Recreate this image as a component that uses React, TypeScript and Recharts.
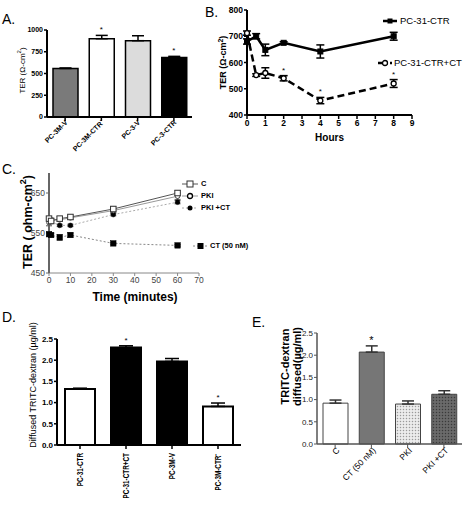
import React from 'react';
import { ComposedChart, LineChart, Bar, Line, XAxis, YAxis, ErrorBar, Legend, Cell, Label } from 'recharts';

const FONT = '"Liberation Sans", Arial, Helvetica, sans-serif';

// ---------- Panel A ----------
const aCategories = ['PC-3M-V', 'PC-3M-CTR\u207B', 'PC-3-V', 'PC-3-CTR'];
const aValues = [558, 900, 877, 685];
const aErrors = [5, 38, 57, 12];
const aSignificant = [false, true, false, true];
const aYTicks = [0, 250, 500, 750, 1000];

// ---------- Panel B ----------
const bHours = [0, 0.5, 1, 2, 4, 8];
const bCtr = [680, 700, 648, 675, 642, 700];
const bCtrErr = [10, 10, 22, 4, 25, 15];
const bCtrCt = [712, 552, 560, 540, 455, 520];
const bCtrCtErr = [8, 5, 20, 10, 12, 15];
const bSignificant = [false, false, false, true, true, true];
const bXTicks = [0, 1, 2, 3, 4, 5, 6, 7, 8, 9];
const bYTicks = [400, 500, 600, 700, 800];
const bSeriesNames = ['PC-31-CTR', 'PC-31-CTR+CT'];

// ---------- Panel C ----------
const cMinutes = [0, 1, 5, 10, 30, 60];
const cControl = [586, 580, 586, 590, 610, 650];
const cControlErr = [5, 5, 5, 5, 6, 6];
const cPki = [576, 583, 583, 588, 606, 642];
const cPkiErr = [8, 4, 4, 4, 5, 8];
const cPkiCt = [585, 578, 569, 569, 596, 627];
const cPkiCtErr = [4, 4, 3, 3, 3, 4];
const cCt = [547, 545, 539, 545, 524, 519];
const cCtErr = [5, 4, 7, 5, 2, 2];
const cXTicks = [0, 10, 20, 30, 40, 50, 60, 70];
const cYTicks = [450, 550, 650];
const cSeriesNames = ['C', 'PKI', 'PKI +CT', 'CT (50 nM)'];

// ---------- Panel D ----------
const dCategories = ['PC-31-CTR', 'PC-31-CTR+CT', 'PC-3M-V', 'PC-3M-CTR\u207B'];
const dValues = [1.32, 2.3, 1.97, 0.91];
const dErrors = [0.02, 0.04, 0.07, 0.08];
const dSignificant = [false, true, false, true];
const dYTicks = [0, 0.5, 1.0, 1.5, 2.0, 2.5];

// ---------- Panel E ----------
const eCategories = ['C', 'CT (50 nM)', 'PKI', 'PKI +CT'];
const eValues = [0.92, 2.07, 0.9, 1.12];
const eErrors = [0.07, 0.14, 0.07, 0.08];
const eSignificant = [false, true, false, false];
const eYTicks = [0, 0.5, 1.0, 1.5, 2.0, 2.5];

// ---------- styles ----------
const A_FILLS = ['#7a7a7a', '#ffffff', '#dcdcdc', '#000000'];
const D_FILLS = ['#ffffff', '#000000', '#000000', '#ffffff'];
const E_FILLS = ['#ffffff', '#767676', 'url(#dotsLight)', 'url(#dotsDark)'];

// ---------- tables ----------
const aData = aCategories.map((name, i) => ({
  name,
  value: aValues[i],
  err: [0, aErrors[i]],
  star: aSignificant[i] ? aValues[i] + aErrors[i] : null,
}));
const bData = bHours.map((h, i) => ({
  h,
  ctr: bCtr[i],
  ctrErr: bCtrErr[i],
  ctrCt: bCtrCt[i],
  ctrCtErr: bCtrCtErr[i],
  star: bSignificant[i] ? bCtrCt[i] + bCtrCtErr[i] : null,
}));
const cData = cMinutes.map((t, i) => ({
  t,
  control: cControl[i],
  controlErr: cControlErr[i],
  pki: cPki[i],
  pkiErr: cPkiErr[i],
  pkiCt: cPkiCt[i],
  pkiCtErr: cPkiCtErr[i],
  ct: cCt[i],
  ctErr: cCtErr[i],
}));
const dData = dCategories.map((name, i) => ({
  name,
  value: dValues[i],
  err: [0, dErrors[i]],
  star: dSignificant[i] ? dValues[i] + dErrors[i] : null,
}));
const eData = eCategories.map((name, i) => ({
  name,
  value: eValues[i],
  err: [0, eErrors[i]],
  star: eSignificant[i] ? eValues[i] + eErrors[i] : null,
}));

// ---------- helpers ----------
const starMark = (fontSize: number, lift: number) => (props: any) => {
  const { cx, cy, payload, index } = props;
  if (!payload || payload.star == null || cx == null || cy == null) return <g key={`s${index}`} />;
  return (
    <text key={`s${index}`} x={cx} y={cy - lift} textAnchor="middle" fontSize={fontSize} fontFamily={FONT} fill="#000">
      *
    </text>
  );
};

const squareDot = (size: number, fill: string, stroke: string, sw: number) => (props: any) => {
  const { cx, cy, index } = props;
  if (cx == null || cy == null) return <g key={`q${index}`} />;
  return <rect key={`q${index}`} x={cx - size / 2} y={cy - size / 2} width={size} height={size} fill={fill} stroke={stroke} strokeWidth={sw} />;
};

const circleDot = (r: number, fill: string, stroke: string, sw: number) => (props: any) => {
  const { cx, cy, index } = props;
  if (cx == null || cy == null) return <g key={`c${index}`} />;
  return <circle key={`c${index}`} cx={cx} cy={cy} r={r} fill={fill} stroke={stroke} strokeWidth={sw} />;
};

const angledTick = (fontSize: number, weight: any, dx: number, dy: number, angle: number, squeeze = 1) => (props: any) => {
  const { x, y, payload } = props;
  const ax = x + dx;
  const ay = y + dy;
  return (
    <g transform={`translate(${ax}, ${ay}) rotate(${angle}) scale(${squeeze}, 1)`}>
      <text x={0} y={0} textAnchor="end" fontSize={fontSize} fontWeight={weight} fontFamily={FONT} fill="#000">
        {payload.value}
      </text>
    </g>
  );
};

const yTitle = (dx: number, dy: number, fontSize: number, weight: any, lines: React.ReactNode[], lineGap = 0) => (props: any) => {
  const vb = props.viewBox || { x: 0, y: 0, width: 0, height: 0 };
  const cy = vb.y + vb.height / 2 + dy;
  return (
    <g>
      {lines.map((ln, i) => {
        const x = vb.x + dx + i * lineGap;
        return (
          <g key={i} transform={`translate(${x}, ${cy}) rotate(-90)`}>
            <text x={0} y={0} textAnchor="middle" dominantBaseline="central" fontSize={fontSize} fontWeight={weight} fontFamily={FONT} fill="#000">
              {ln}
            </text>
          </g>
        );
      })}
    </g>
  );
};

const xTitle = (dx: number, dy: number, fontSize: number, weight: any, text: string) => (props: any) => {
  const vb = props.viewBox || { x: 0, y: 0, width: 0, height: 0 };
  const x = vb.x + vb.width / 2 + dx;
  const y = vb.y + dy;
  return (
    <text x={x} y={y} textAnchor="middle" dominantBaseline="central" fontSize={fontSize} fontWeight={weight} fontFamily={FONT} fill="#000">
      {text}
    </text>
  );
};

const terOhm = (supSize: number) => [
  <>
    TER (Ω-cm<tspan dy={-3} fontSize={supSize}>2</tspan>
    <tspan dy={3}>)</tspan>
  </>,
];

type Row = {
  text: string;
  x1: number;
  x2: number;
  y: number;
  textX: number;
  stroke: string;
  sw: number;
  dash?: string;
  marker: 'square' | 'openSquare' | 'circle' | 'openCircle';
  ms: number;
  fontSize: number;
  weight: any;
};

const LegendRows = ({ rows }: { rows: Row[] }) => (
  <div style={{ position: 'relative', width: 0, height: 0 }}>
    {rows.map((r, i) => {
      const w = r.x2 - r.x1;
      const mid = w / 2;
      return (
        <React.Fragment key={i}>
          <svg style={{ position: 'absolute', left: r.x1, top: r.y - 5, overflow: 'visible' }} width={w} height={10}>
            <line x1={0} y1={5} x2={w} y2={5} stroke={r.stroke} strokeWidth={r.sw} strokeDasharray={r.dash} />
            {r.marker === 'square' && <rect x={mid - r.ms / 2} y={5 - r.ms / 2} width={r.ms} height={r.ms} fill="#000" />}
            {r.marker === 'openSquare' && <rect x={mid - r.ms / 2} y={5 - r.ms / 2} width={r.ms} height={r.ms} fill="#fff" stroke="#333" strokeWidth={1} />}
            {r.marker === 'circle' && <circle cx={mid} cy={5} r={r.ms / 2} fill="#000" />}
            {r.marker === 'openCircle' && <circle cx={mid} cy={5} r={r.ms / 2} fill="#fff" stroke="#000" strokeWidth={1.3} />}
          </svg>
          <span
            style={{
              position: 'absolute',
              left: r.textX,
              top: r.y - r.fontSize / 2 - 1,
              fontSize: r.fontSize,
              lineHeight: `${r.fontSize + 2}px`,
              fontWeight: r.weight,
              fontFamily: FONT,
              whiteSpace: 'nowrap',
              color: '#000',
            }}
          >
            {r.text}
          </span>
        </React.Fragment>
      );
    })}
  </div>
);

const zeroWrap = { left: 0, top: 0, width: 0, height: 0, overflow: 'visible' as const };

// ---------- panels ----------
function PanelA() {
  return (
    <ComposedChart width={200} height={160} data={aData} margin={{ top: 30, right: 8, bottom: 0, left: 0 }}>
      <XAxis
        dataKey="name"
        height={43}
        interval={0}
        tickSize={4}
        tick={angledTick(7, 'bold', 3, 0, -45)}
        axisLine={{ stroke: '#000', strokeWidth: 2 }}
        tickLine={{ stroke: '#000', strokeWidth: 1.5 }}
      />
      <YAxis
        width={47}
        domain={[0, 1000]}
        ticks={aYTicks}
        interval={0}
        tickSize={3}
        tickMargin={1}
        tick={{ fontSize: 7, fontWeight: 'bold', fill: '#000', fontFamily: FONT }}
        axisLine={{ stroke: '#000', strokeWidth: 2 }}
        tickLine={{ stroke: '#000', strokeWidth: 1.5 }}
      >
        <Label content={yTitle(22, -3, 8, 'normal', terOhm(6))} />
      </YAxis>
      <Bar dataKey="value" barSize={25} stroke="#000" strokeWidth={1.5} isAnimationActive={false}>
        {aData.map((d, i) => (
          <Cell key={d.name} fill={A_FILLS[i]} />
        ))}
        <ErrorBar dataKey="err" width={6} stroke="#000" strokeWidth={1.5} direction="y" />
      </Bar>
      <Line dataKey="star" stroke="none" dot={starMark(8, 3)} activeDot={false} isAnimationActive={false} legendType="none" />
    </ComposedChart>
  );
}

function PanelB() {
  const rows: Row[] = [
    { text: bSeriesNames[0], x1: 178, x2: 192, y: 21, textX: 195, stroke: '#000', sw: 2.5, marker: 'square', ms: 5, fontSize: 9.5, weight: 'normal' },
    { text: bSeriesNames[1], x1: 173, x2: 187, y: 63, textX: 189, stroke: '#000', sw: 2.5, dash: '4 2', marker: 'openCircle', ms: 5, fontSize: 9.5, weight: 'normal' },
  ];
  return (
    <LineChart width={260} height={150} data={bData} margin={{ top: 10, right: 53, bottom: 0, left: 0 }}>
      <XAxis
        dataKey="h"
        type="number"
        domain={[0, 9]}
        ticks={bXTicks}
        interval={0}
        height={35}
        tickSize={4}
        tickMargin={1}
        tick={{ fontSize: 8.5, fontWeight: 'bold', fill: '#000', fontFamily: FONT }}
        axisLine={{ stroke: '#000', strokeWidth: 2 }}
        tickLine={{ stroke: '#000', strokeWidth: 1.5 }}
      >
        <Label content={xTitle(0, 22, 10, 'bold', 'Hours')} />
      </XAxis>
      <YAxis
        width={42}
        domain={[400, 800]}
        ticks={bYTicks}
        interval={0}
        tickSize={3}
        tickMargin={1}
        tick={{ fontSize: 8.5, fontWeight: 'bold', fill: '#000', fontFamily: FONT }}
        axisLine={{ stroke: '#000', strokeWidth: 2 }}
        tickLine={{ stroke: '#000', strokeWidth: 1.5 }}
      >
        <Label content={yTitle(18, 0, 9, 'bold', terOhm(7))} />
      </YAxis>
      <Line dataKey="ctr" name={bSeriesNames[0]} stroke="#000" strokeWidth={2.5} dot={squareDot(5, '#000', '#000', 1)} activeDot={false} isAnimationActive={false}>
        <ErrorBar dataKey="ctrErr" width={4} stroke="#000" strokeWidth={1.5} direction="y" />
      </Line>
      <Line dataKey="ctrCt" name={bSeriesNames[1]} stroke="#000" strokeWidth={2.5} strokeDasharray="7 4" dot={circleDot(2.5, '#fff', '#000', 1.3)} activeDot={false} isAnimationActive={false}>
        <ErrorBar dataKey="ctrCtErr" width={4} stroke="#000" strokeWidth={1.5} direction="y" />
      </Line>
      <Line dataKey="star" stroke="none" dot={starMark(8, 3)} activeDot={false} isAnimationActive={false} legendType="none" />
      <Legend content={() => <LegendRows rows={rows} />} wrapperStyle={zeroWrap} />
    </LineChart>
  );
}

function PanelC() {
  const rows: Row[] = [
    { text: cSeriesNames[0], x1: 182, x2: 198, y: 24, textX: 201, stroke: '#555', sw: 1, marker: 'openSquare', ms: 6, fontSize: 7.5, weight: 'bold' },
    { text: cSeriesNames[1], x1: 182, x2: 198, y: 36, textX: 201, stroke: '#999', sw: 1, marker: 'openCircle', ms: 5, fontSize: 7.5, weight: 'bold' },
    { text: cSeriesNames[2], x1: 182, x2: 198, y: 48, textX: 201, stroke: '#aaa', sw: 1, dash: '2 2', marker: 'circle', ms: 5, fontSize: 7.5, weight: 'bold' },
    { text: cSeriesNames[3], x1: 193, x2: 208, y: 86, textX: 210, stroke: '#888', sw: 1, dash: '2 2', marker: 'square', ms: 6, fontSize: 7.5, weight: 'bold' },
  ];
  return (
    <LineChart width={250} height={146} data={cData} margin={{ top: 13, right: 51, bottom: 0, left: 0 }}>
      <XAxis
        dataKey="t"
        type="number"
        domain={[0, 70]}
        ticks={cXTicks}
        interval={0}
        height={33}
        tickSize={3}
        tickMargin={1}
        tick={{ fontSize: 8.5, fill: '#444', fontFamily: FONT }}
        axisLine={{ stroke: '#888', strokeWidth: 1 }}
        tickLine={{ stroke: '#888', strokeWidth: 1 }}
      >
        <Label content={xTitle(11, 24, 12, 'bold', 'Time (minutes)')} />
      </XAxis>
      <YAxis
        width={49}
        domain={[450, 700]}
        ticks={cYTicks}
        interval={0}
        tickSize={3}
        tickMargin={1}
        tick={{ fontSize: 8.5, fill: '#444', fontFamily: FONT }}
        axisLine={{ stroke: '#666', strokeWidth: 2 }}
        tickLine={{ stroke: '#666', strokeWidth: 1 }}
      >
        <Label
          content={yTitle(28, -1, 12.5, 'bold', [
            <>
              TER ( ohm-cm<tspan dy={-5} fontSize={9}>2</tspan>
              <tspan dy={5}>)</tspan>
            </>,
          ])}
        />
      </YAxis>
      <Line dataKey="ct" name={cSeriesNames[3]} stroke="#888" strokeWidth={1} strokeDasharray="2 2" dot={squareDot(5.5, '#000', '#000', 0.5)} activeDot={false} isAnimationActive={false}>
        <ErrorBar dataKey="ctErr" width={3} stroke="#555" strokeWidth={1} direction="y" />
      </Line>
      <Line dataKey="pkiCt" name={cSeriesNames[2]} stroke="#aaa" strokeWidth={1} strokeDasharray="2 2" dot={circleDot(2.4, '#000', '#000', 0.5)} activeDot={false} isAnimationActive={false}>
        <ErrorBar dataKey="pkiCtErr" width={3} stroke="#555" strokeWidth={1} direction="y" />
      </Line>
      <Line dataKey="pki" name={cSeriesNames[1]} stroke="#999" strokeWidth={1} dot={circleDot(2.3, '#fff', '#444', 1)} activeDot={false} isAnimationActive={false}>
        <ErrorBar dataKey="pkiErr" width={3} stroke="#555" strokeWidth={1} direction="y" />
      </Line>
      <Line dataKey="control" name={cSeriesNames[0]} stroke="#555" strokeWidth={1} dot={squareDot(5.5, '#fff', '#333', 1)} activeDot={false} isAnimationActive={false}>
        <ErrorBar dataKey="controlErr" width={3} stroke="#555" strokeWidth={1} direction="y" />
      </Line>
      <Legend content={() => <LegendRows rows={rows} />} wrapperStyle={zeroWrap} />
    </LineChart>
  );
}

function PanelD() {
  return (
    <ComposedChart width={250} height={210} data={dData} margin={{ top: 39, right: 9, bottom: 0, left: 0 }}>
      <XAxis
        dataKey="name"
        height={65}
        interval={0}
        tickSize={4}
        tick={angledTick(8.5, 'bold', 3, 2, -90, 0.75)}
        axisLine={{ stroke: '#000', strokeWidth: 2 }}
        tickLine={{ stroke: '#000', strokeWidth: 1.5 }}
      />
      <YAxis
        width={57}
        domain={[0, 2.5]}
        ticks={dYTicks}
        interval={0}
        tickSize={3}
        tickMargin={1}
        tickFormatter={(v: number) => v.toFixed(1)}
        tick={{ fontSize: 8, fontWeight: 'bold', fill: '#000', fontFamily: FONT }}
        axisLine={{ stroke: '#000', strokeWidth: 2 }}
        tickLine={{ stroke: '#000', strokeWidth: 1.5 }}
      >
        <Label content={yTitle(33, -7, 9, 'normal', ['Diffused TRITC-dextran  (µg/ml)'])} />
      </YAxis>
      <Bar dataKey="value" barSize={30} stroke="#000" strokeWidth={2} isAnimationActive={false}>
        {dData.map((d, i) => (
          <Cell key={d.name} fill={D_FILLS[i]} />
        ))}
        <ErrorBar dataKey="err" width={7} stroke="#000" strokeWidth={1.5} direction="y" />
      </Bar>
      <Line dataKey="star" stroke="none" dot={starMark(8, 3)} activeDot={false} isAnimationActive={false} legendType="none" />
    </ComposedChart>
  );
}

function PanelE() {
  return (
    <ComposedChart width={225} height={210} data={eData} margin={{ top: 33, right: 3, bottom: 0, left: 0 }}>
      <defs>
        <pattern id="dotsLight" width="3" height="3" patternUnits="userSpaceOnUse">
          <rect width="3" height="3" fill="#ececec" />
          <circle cx="1.5" cy="1.5" r="0.75" fill="#9a9a9a" />
        </pattern>
        <pattern id="dotsDark" width="3" height="3" patternUnits="userSpaceOnUse">
          <rect width="3" height="3" fill="#6a6a6a" />
          <circle cx="1.5" cy="1.5" r="0.75" fill="#3a3a3a" />
        </pattern>
      </defs>
      <XAxis
        dataKey="name"
        height={66}
        interval={0}
        tickSize={4}
        tick={angledTick(8.5, 'normal', 5, 1, -45)}
        axisLine={{ stroke: '#555', strokeWidth: 1.5 }}
        tickLine={{ stroke: '#555', strokeWidth: 1 }}
      />
      <YAxis
        width={77}
        domain={[0, 2.5]}
        ticks={eYTicks}
        interval={0}
        tickSize={3}
        tickMargin={1}
        tickFormatter={(v: number) => v.toFixed(1)}
        tick={{ fontSize: 8, fill: '#222', fontFamily: FONT }}
        axisLine={{ stroke: '#555', strokeWidth: 1.5 }}
        tickLine={{ stroke: '#555', strokeWidth: 1 }}
      >
        <Label content={yTitle(45, -22, 11, 'bold', ['TRITC-dextran', 'diffused(µg/ml)'], 12)} />
      </YAxis>
      <Bar dataKey="value" barSize={25} stroke="#444" strokeWidth={1} isAnimationActive={false}>
        {eData.map((d, i) => (
          <Cell key={d.name} fill={E_FILLS[i]} />
        ))}
        <ErrorBar dataKey="err" width={6} stroke="#333" strokeWidth={1.5} direction="y" />
      </Bar>
      <Line dataKey="star" stroke="none" dot={starMark(11, 2)} activeDot={false} isAnimationActive={false} legendType="none" />
    </ComposedChart>
  );
}

const Letter = ({ x, y, text }: { x: number; y: number; text: string }) => (
  <div style={{ position: 'absolute', left: x, top: y, fontSize: 14, lineHeight: '14px', fontFamily: FONT, color: '#000' }}>{text}</div>
);

const Place = ({ x, y, children }: { x: number; y: number; children: React.ReactNode }) => (
  <div style={{ position: 'absolute', left: x, top: y }}>{children}</div>
);

export default function App() {
  return (
    <div style={{ position: 'absolute', left: 0, top: 0, width: 465, height: 510, background: '#fff', overflow: 'hidden', fontFamily: FONT }}>
      <Place x={0} y={0}>
        <PanelA />
      </Place>
      <Place x={205} y={0}>
        <PanelB />
      </Place>
      <Place x={0} y={160}>
        <PanelC />
      </Place>
      <Place x={0} y={300}>
        <PanelD />
      </Place>
      <Place x={240} y={300}>
        <PanelE />
      </Place>
      <Letter x={2} y={12} text="A." />
      <Letter x={205} y={5} text="B." />
      <Letter x={2} y={162} text="C." />
      <Letter x={2} y={310} text="D." />
      <Letter x={252} y={315} text="E." />
    </div>
  );
}
